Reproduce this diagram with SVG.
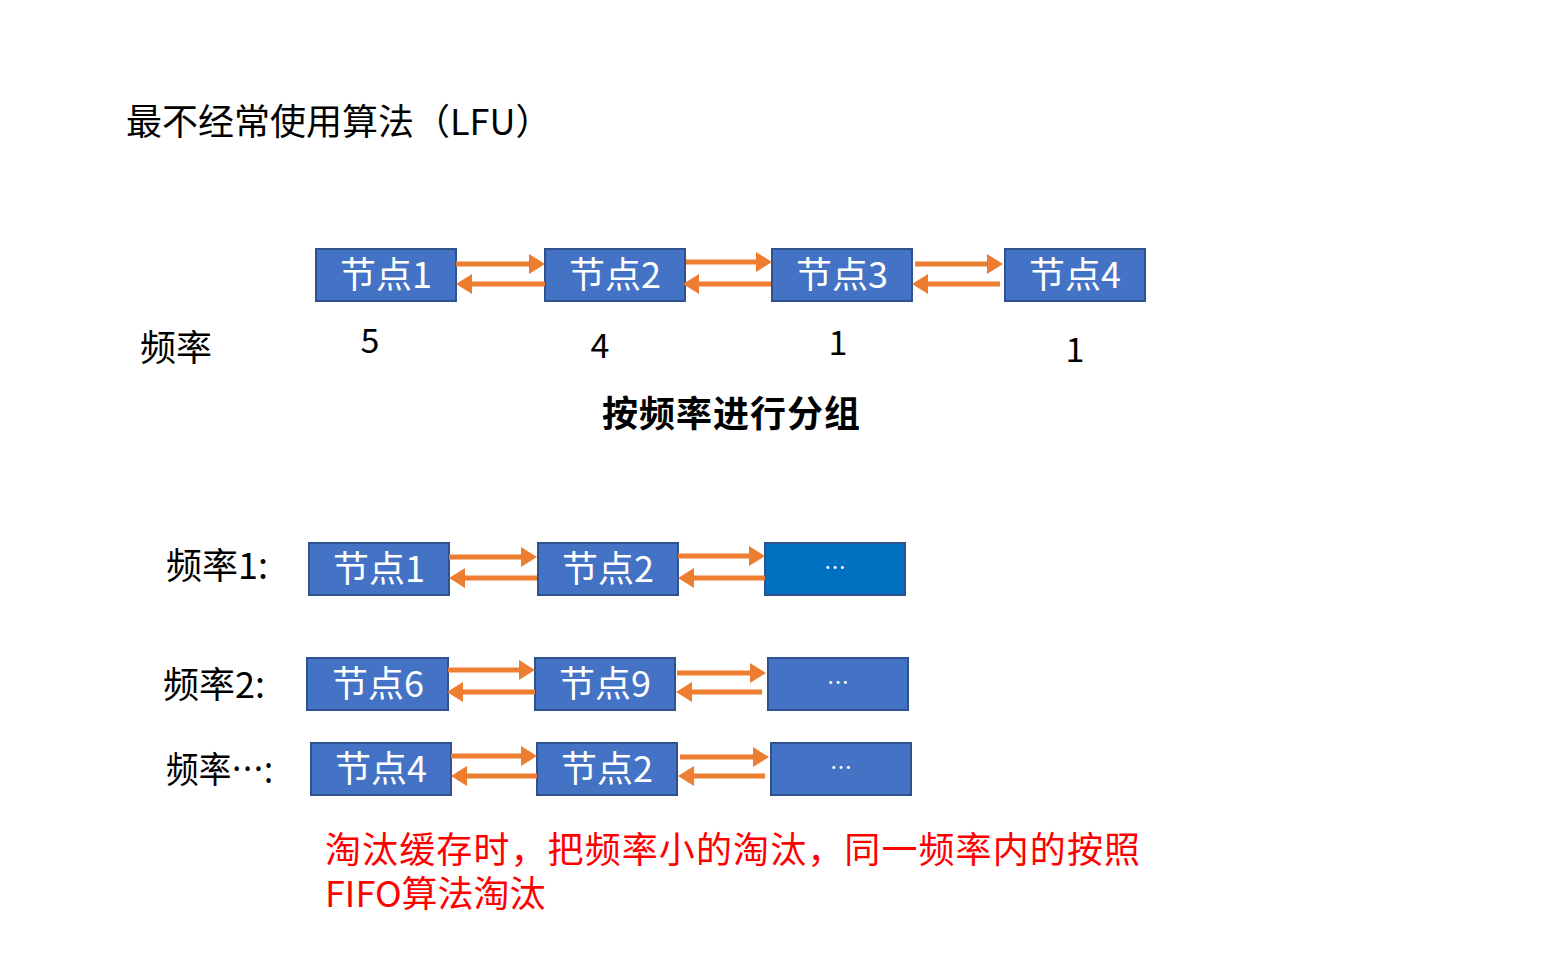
<svg xmlns="http://www.w3.org/2000/svg" width="1565" height="966" viewBox="0 0 1565 966">
<style>
.box{fill:#4472C4;stroke:#2F528F;stroke-width:2}
.box2{fill:#0070C0;stroke:#2F528F;stroke-width:2}
.lbl{font-family:"Noto Sans CJK SC","Microsoft YaHei",sans-serif;font-size:36px;fill:#fff;text-anchor:middle}
.dots{font-family:"Noto Sans CJK SC",sans-serif;font-size:22px;fill:#fff;text-anchor:middle}
.t{font-family:"Noto Sans CJK SC",sans-serif;font-size:36px;fill:#000}
.num{font-family:"Noto Sans CJK SC",sans-serif;font-size:34px;fill:#000;text-anchor:middle}
.red{font-family:"Noto Sans CJK SC",sans-serif;font-size:36px;fill:#FF0000}
.a{stroke:#ED7D31;stroke-width:5;fill:none;marker-end:url(#ah)}
</style>
<defs>
<marker id="ah" markerWidth="16" markerHeight="20" refX="0" refY="10" orient="auto" markerUnits="userSpaceOnUse">
<path d="M0,0 L16,10 L0,20 z" fill="#ED7D31"/>
</marker>
</defs>
<rect width="1565" height="966" fill="#fff"/>
<text class="t" x="126" y="135">最不经常使用算法（LFU）</text>
<text class="t" x="140" y="361">频率</text>
<text class="num" x="370" y="353">5</text>
<text class="num" x="600" y="358">4</text>
<text class="num" x="838" y="355">1</text>
<text class="num" x="1075" y="362">1</text>
<text class="t" x="602" y="427" font-weight="bold" textLength="258">按频率进行分组</text>
<text class="t" x="166" y="579">频率1:</text>
<text class="t" x="163" y="698">频率2:</text>
<text class="t" x="166" y="783" textLength="107" lengthAdjust="spacingAndGlyphs">频率…:</text>
<text class="red" x="325" y="863" textLength="815">淘汰缓存时，把频率小的淘汰，同一频率内的按照</text>
<text class="red" x="325" y="907">FIFO算法淘汰</text>

<g id="n1"><rect class="box" x="316" y="249" width="140" height="52"/><text class="lbl" x="386" y="288">节点1</text></g>
<g id="n2"><rect class="box" x="545" y="249" width="140" height="52"/><text class="lbl" x="615" y="288">节点2</text></g>
<g id="n3"><rect class="box" x="772" y="249" width="140" height="52"/><text class="lbl" x="842" y="288">节点3</text></g>
<g id="n4"><rect class="box" x="1005" y="249" width="140" height="52"/><text class="lbl" x="1075" y="288">节点4</text></g>

<g id="r1n1"><rect class="box" x="309" y="543" width="140" height="52"/><text class="lbl" x="379" y="582">节点1</text></g>
<g id="r1n2"><rect class="box" x="538" y="543" width="140" height="52"/><text class="lbl" x="608" y="582">节点2</text></g>
<g id="r1n3"><rect class="box2" x="765" y="543" width="140" height="52"/><text class="dots" x="835" y="575">…</text></g>

<g id="r2n1"><rect class="box" x="307" y="658" width="141" height="52"/><text class="lbl" x="378" y="697">节点6</text></g>
<g id="r2n2"><rect class="box" x="535" y="658" width="140" height="52"/><text class="lbl" x="605" y="697">节点9</text></g>
<g id="r2n3"><rect class="box" x="768" y="658" width="140" height="52"/><text class="dots" x="838" y="690">…</text></g>

<g id="r3n1"><rect class="box" x="311" y="743" width="140" height="52"/><text class="lbl" x="381" y="782">节点4</text></g>
<g id="r3n2"><rect class="box" x="537" y="743" width="140" height="52"/><text class="lbl" x="607" y="782">节点2</text></g>
<g id="r3n3"><rect class="box" x="771" y="743" width="140" height="52"/><text class="dots" x="841" y="775">…</text></g>

<g id="connectors">
<path class="a" d="M456,264 H529"/>
<path class="a" d="M545,284 H472"/>
<path class="a" d="M686,262 H756"/>
<path class="a" d="M771,284 H699"/>
<path class="a" d="M915,264 H987"/>
<path class="a" d="M1000,284 H928"/>

<path class="a" d="M449,557 H521"/>
<path class="a" d="M537,578 H465"/>
<path class="a" d="M678,556 H749"/>
<path class="a" d="M765,578 H694"/>

<path class="a" d="M448,670 H519"/>
<path class="a" d="M535,692 H463"/>
<path class="a" d="M677,673 H750"/>
<path class="a" d="M762,692 H692"/>

<path class="a" d="M451,756 H521"/>
<path class="a" d="M537,776 H467"/>
<path class="a" d="M680,757 H753"/>
<path class="a" d="M765,776 H694"/>
</g>
</svg>
